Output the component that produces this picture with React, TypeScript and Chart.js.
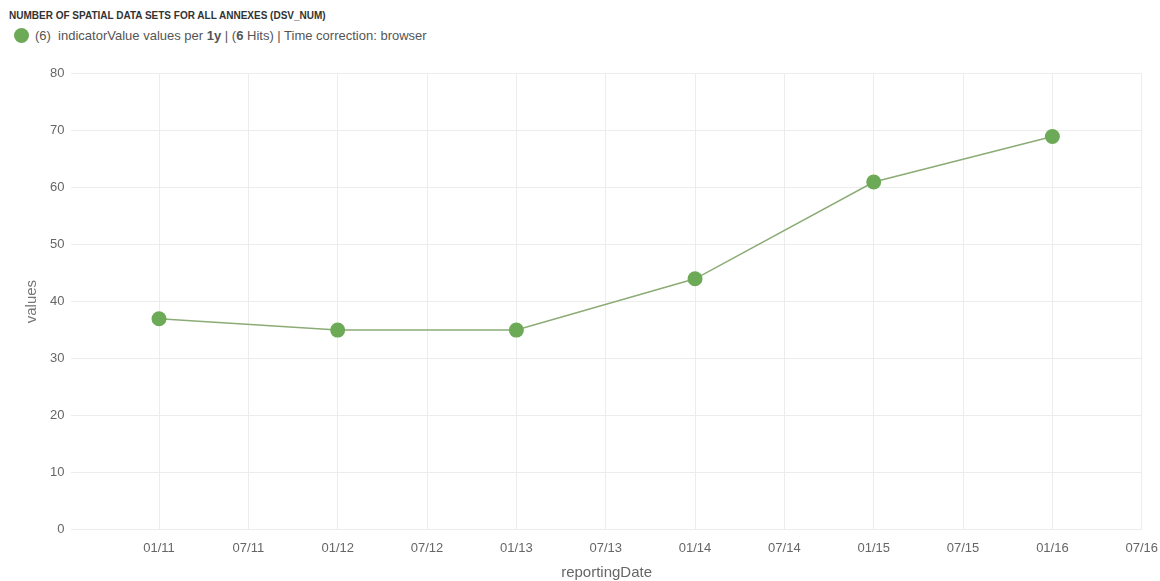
import React, { useEffect, useRef } from "react";
import { Chart, registerables } from "chart.js";

Chart.register(...registerables);

const chartTitle = "NUMBER OF SPATIAL DATA SETS FOR ALL ANNEXES (DSV_NUM)";
const tickLabels = ["01/11", "07/11", "01/12", "07/12", "01/13", "07/13", "01/14", "07/14", "01/15", "07/15", "01/16", "07/16"];
// x positions expressed as half-year index from 01/11
const pointX = [0, 2, 4, 6, 8, 10];
const pointValues = [37, 35, 35, 44, 61, 69];
const yTicks = [0, 10, 20, 30, 40, 50, 60, 70, 80];

export default function App() {
  const ref = useRef<HTMLCanvasElement | null>(null);

  useEffect(() => {
    document.body.style.margin = "0";
    if (!ref.current) return;
    const chart = new Chart(ref.current, {
      type: "line",
      data: {
        datasets: [
          {
            label: "indicatorValue",
            data: pointX.map((x, i) => ({ x, y: pointValues[i] })),
            borderColor: "rgb(140,172,118)",
            borderWidth: 1.5,
            pointBackgroundColor: "rgb(108,170,88)",
            pointBorderColor: "rgb(108,170,88)",
            pointRadius: 7.5,
            pointBorderWidth: 0,
            tension: 0,
          },
        ],
      },
      options: {
        responsive: true,
        maintainAspectRatio: false,
        animation: false,
        layout: { padding: { top: 10, right: 0, left: 23, bottom: 1 } },
        plugins: { legend: { display: false }, tooltip: { enabled: false } },
        scales: {
          x: {
            type: "linear",
            min: -0.98,
            max: 11,
            afterBuildTicks: (scale: any) => {
              scale.ticks = tickLabels.map((_, i) => ({ value: i }));
            },
            ticks: {
              autoSkip: false,
              maxRotation: 0,
              padding: 11,
              color: "#666",
              font: { family: "'Liberation Sans', Arial, sans-serif", size: 13 },
              callback: (v: any) => tickLabels[Math.round(Number(v))] ?? "",
            },
            grid: { color: "#ececec", drawTicks: false },
            border: { display: false },
            title: {
              display: true,
              text: "reportingDate",
              color: "#666",
              font: { family: "'Liberation Sans', Arial, sans-serif", size: 15 },
              padding: { top: -3, bottom: 0 },
            },
          },
          y: {
            min: 0,
            max: 80,
            afterBuildTicks: (scale: any) => {
              scale.ticks = yTicks.map((v) => ({ value: v }));
            },
            ticks: {
              padding: 7,
              color: "#666",
              font: { family: "'Liberation Sans', Arial, sans-serif", size: 13 },
            },
            grid: { color: "#ececec", drawTicks: false },
            border: { display: false },
            title: {
              display: true,
              text: "values",
              color: "#777",
              font: { family: "'Liberation Sans', Arial, sans-serif", size: 15 },
              padding: { top: 0, bottom: 2 },
            },
          },
        },
      },
    });
    return () => chart.destroy();
  }, []);

  return (
    <div style={{ position: "relative", width: 1160, height: 581, overflow: "hidden", background: "#fff", fontFamily: "'Liberation Sans', Arial, sans-serif" }}>
      <div style={{ position: "absolute", left: 9, top: 10, fontSize: 10, fontWeight: "bold", color: "#333", whiteSpace: "nowrap" }}>
        {chartTitle}
      </div>
      <div style={{ position: "absolute", left: 14, top: 28, fontSize: 13, color: "#555", whiteSpace: "nowrap", display: "flex", alignItems: "center" }}>
        <span style={{ display: "inline-block", width: 15, height: 15, borderRadius: "50%", background: "rgb(108,170,88)", marginRight: 6 }} />
        <span>(6)&nbsp;&nbsp;indicatorValue values per <b>1y</b> | (<b>6</b> Hits) | Time correction: browser</span>
      </div>
      <div style={{ position: "absolute", left: 0, top: 59, width: 1169, height: 524 }}>
        <canvas ref={ref} />
      </div>
    </div>
  );
}
